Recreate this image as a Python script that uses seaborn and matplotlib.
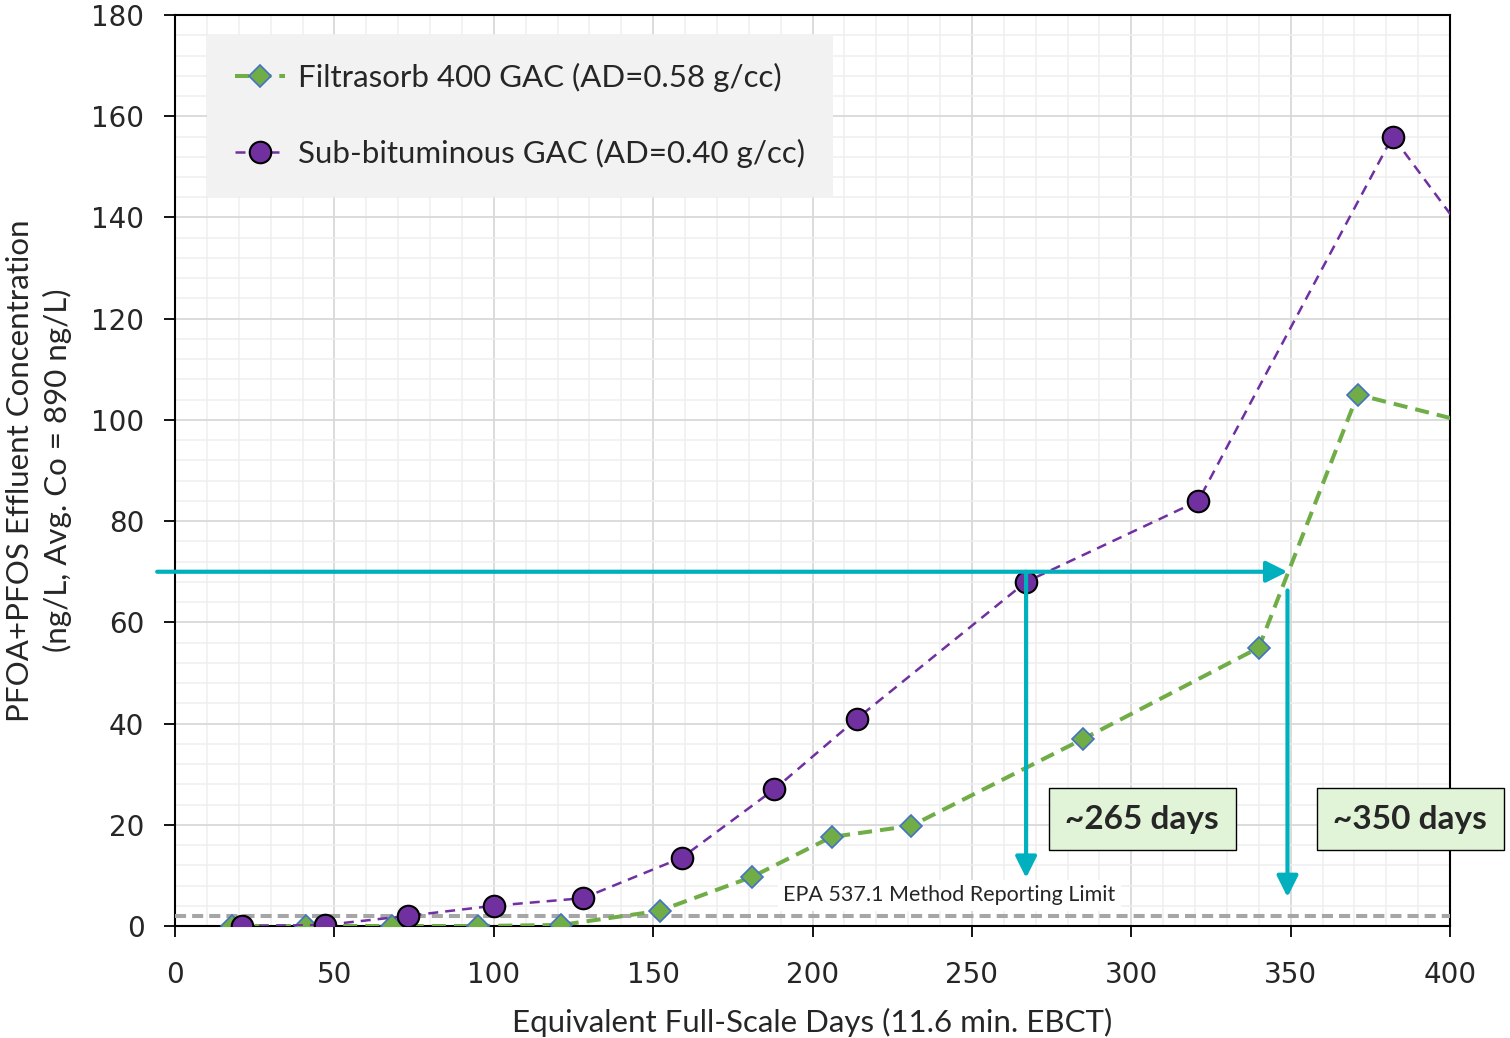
#!/usr/bin/env python3
#
# PFOA+PFOS breakthrough, Filtrasorb 400 vs sub-bituminous GAC
#
import numpy as np
import pandas as pd
import matplotlib
matplotlib.use('Agg')
import matplotlib.pyplot as plt
import seaborn as sns
from matplotlib.ticker import MultipleLocator

# Data (last points lie past the axis and are clipped)
f400_days = [18, 41, 68, 95, 121, 152, 181, 206, 231, 285, 340, 371, 425]
f400_conc = [0, 0, 0, 0, 0.2, 3, 9.7, 17.6, 19.8, 37, 55, 105, 96.4]
sub_days = [21, 47, 73, 100, 128, 159, 188, 214, 267, 321, 382, 415]
sub_conc = [0, 0.2, 2, 4, 5.5, 13.5, 27, 41, 68, 84, 156, 128]

f400_label = 'Filtrasorb 400 GAC (AD=0.58 g/cc)'
sub_label = 'Sub-bituminous GAC (AD=0.40 g/cc)'

mrl = 2
target = 70
days_f400 = 349
days_sub = 267
callouts = ['~265 days', '~350 days']

# Colours
green = '#70AD47'
blue_edge = '#4472C4'
purple = '#7030A0'
teal = '#00B0BE'
box_fill = '#E2F4D8'

sns.set_style('white')
plt.rcParams['font.family'] = ['Lato', 'DejaVu Sans']

fig = plt.figure(figsize=(15.1, 10.38), dpi=100)
ax = fig.add_axes([0.1159, 0.1079, 0.8444, 0.8776])

df1 = pd.DataFrame({'day': f400_days, 'conc': f400_conc})
df2 = pd.DataFrame({'day': sub_days, 'conc': sub_conc})

sns.lineplot(data=df1, x='day', y='conc', ax=ax, color=green, lw=2.9,
             linestyle=(0, (3.5, 2.0)), marker='D', markersize=11.5,
             markerfacecolor=green, markeredgecolor=blue_edge,
             markeredgewidth=1.2, errorbar=None, label=f400_label, zorder=4)
sns.lineplot(data=df2, x='day', y='conc', ax=ax, color=purple, lw=1.8,
             linestyle=(0, (4.0, 2.8)), marker='o', markersize=15.5,
             markerfacecolor=purple, markeredgecolor='black',
             markeredgewidth=1.5, errorbar=None, label=sub_label, zorder=5)

# Method reporting limit
ax.axhline(mrl, color='#A6A6A6', lw=2.9, linestyle=(0, (2.75, 1.5)), zorder=3)
ax.text(243, 6.1, 'EPA 537.1 Method Reporting Limit', fontsize=15.5,
        ha='center', va='center', zorder=3,
        bbox=dict(boxstyle='square,pad=0.25', fc='white', ec='none'))

# Arrows
arrow = dict(arrowstyle='-|>', color=teal, lw=3, mutation_scale=32,
             shrinkA=0, shrinkB=0)
ax.annotate('', xy=(days_f400, target), xytext=(-5.6, target),
            arrowprops=arrow, annotation_clip=False, zorder=6)
ax.annotate('', xy=(days_sub, 9.5), xytext=(days_sub, target),
            arrowprops=arrow, annotation_clip=False, zorder=6)
ax.annotate('', xy=(days_f400, 5.7), xytext=(days_f400, 66.3),
            arrowprops=arrow, annotation_clip=False, zorder=6)

# Call-out boxes
for xpos, txt in zip([303.4, 387.5], callouts):
    ax.text(xpos, 21.1, txt, fontsize=24, fontweight='bold', ha='center',
            va='center', zorder=7, clip_on=False,
            bbox=dict(boxstyle='square,pad=0.5', fc=box_fill, ec='black',
                      lw=1.0))

# Axes
ax.set_xlim(0, 400)
ax.set_ylim(0, 180)
ax.xaxis.set_major_locator(MultipleLocator(50))
ax.xaxis.set_minor_locator(MultipleLocator(10))
ax.yaxis.set_major_locator(MultipleLocator(20))
ax.yaxis.set_minor_locator(MultipleLocator(4))
ax.grid(which='major', color='#D9D9D9', lw=1.3)
ax.grid(which='minor', color='#EFEFEF', lw=1.1)
ax.set_axisbelow(True)
for side in ax.spines.values():
    side.set_color('black')
    side.set_linewidth(1.5)
ax.tick_params(which='major', direction='out', length=8, width=1.3,
               color='black', labelsize=20, bottom=True, left=True)
ax.tick_params(axis='x', which='major', pad=17)
ax.tick_params(axis='y', which='major', pad=14)
ax.tick_params(which='minor', length=0)
for lab in ax.get_xticklabels() + ax.get_yticklabels():
    lab.set_family('DejaVu Sans')

ax.set_xlabel('Equivalent Full-Scale Days (11.6 min. EBCT)', fontsize=22.5,
              labelpad=14)
ax.set_ylabel('PFOA+PFOS Effluent Concentration\n(ng/L, Avg. Co = 890 ng/L)',
              fontsize=22.5, labelpad=14, linespacing=1.35)

leg = ax.legend(loc='upper left', bbox_to_anchor=(0.025, 0.978),
                fontsize=22.5, frameon=True, fancybox=False,
                facecolor='#F2F2F2', edgecolor='none', framealpha=1,
                handlelength=1.6, handletextpad=0.4, labelspacing=1.5,
                borderpad=0.9, borderaxespad=0)
leg.set_zorder(8)

plt.savefig('out.png')
